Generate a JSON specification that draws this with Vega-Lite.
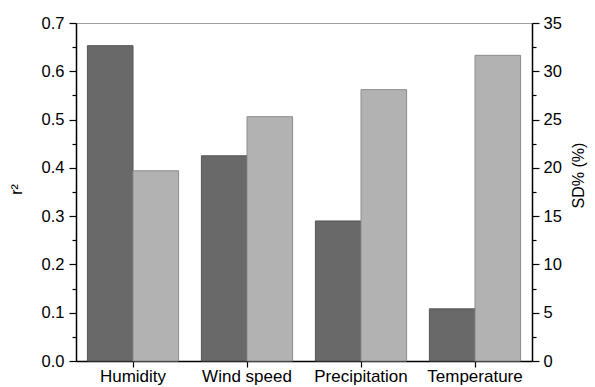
{
  "$schema": "https://vega.github.io/schema/vega-lite/v6.json",
  "width": 456,
  "height": 338,
  "autosize": "none",
  "padding": {"left": 76, "top": 23, "right": 63, "bottom": 26},
  "background": "white",
  "config": {
    "font": "Liberation Sans",
    "view": {"stroke": "#a0a0a0", "strokeWidth": 1},
    "axis": {"labelFont": "Liberation Sans", "titleFont": "Liberation Sans", "labelFontSize": 16.5, "titleFontSize": 16, "labelColor": "#000", "titleColor": "#000", "domainColor": "#000", "tickColor": "#000", "titleFontWeight": "normal", "grid": false, "domainWidth": 1.5, "tickWidth": 1.2}
  },
  "data": {"values": [
    {"category": "Humidity", "series": "r2", "value": 0.653},
    {"category": "Wind speed", "series": "r2", "value": 0.425},
    {"category": "Precipitation", "series": "r2", "value": 0.290},
    {"category": "Temperature", "series": "r2", "value": 0.108},
    {"category": "Humidity", "series": "SD", "value": 19.7},
    {"category": "Wind speed", "series": "SD", "value": 25.3},
    {"category": "Precipitation", "series": "SD", "value": 28.1},
    {"category": "Temperature", "series": "SD", "value": 31.65}
  ]},
  "encoding": {
    "x": {"field": "category", "type": "nominal", "sort": ["Humidity", "Wind speed", "Precipitation", "Temperature"],
      "scale": {"paddingInner": 0.2, "paddingOuter": 0.1},
      "axis": {"title": null, "labelAngle": 0, "tickSize": 6, "labelPadding": 1, "domain": true, "labelFontSize": 17}},
    "xOffset": {"field": "series", "type": "nominal", "sort": ["r2", "SD"], "scale": {"domain": ["r2", "SD"], "paddingInner": 0, "paddingOuter": 0}}
  },
  "layer": [
    {
      "transform": [{"filter": "datum.series === 'r2'"}],
      "mark": {"type": "bar", "fill": "#696969", "stroke": "#555555", "strokeWidth": 1},
      "encoding": {
        "y": {"field": "value", "type": "quantitative",
          "scale": {"domain": [0, 0.7], "nice": false},
          "axis": {"orient": "left", "title": "r²", "titleAngle": -90, "titleX": -60, "titleY": 166, "titleAlign": "center", "titleBaseline": "middle",
            "values": [0, 0.05, 0.1, 0.15, 0.2, 0.25, 0.3, 0.35, 0.4, 0.45, 0.5, 0.55, 0.6, 0.65, 0.7],
            "labelExpr": "abs(round(datum.value*10) - datum.value*10) < 0.001 ? format(datum.value, '.1f') : ''",
            "tickSize": {"condition": {"test": "abs(round(datum.value*10) - datum.value*10) < 0.001", "value": 7}, "value": 4},
            "labelPadding": 5}}
      }
    },
    {
      "transform": [{"filter": "datum.series === 'SD'"}],
      "mark": {"type": "bar", "fill": "#b2b2b2", "stroke": "#8c8c8c", "strokeWidth": 1},
      "encoding": {
        "y": {"field": "value", "type": "quantitative",
          "scale": {"domain": [0, 35], "nice": false},
          "axis": {"orient": "right", "title": "SD% (%)", "titleAngle": -90, "titleX": 46, "titleY": 152, "titleAlign": "center", "titleBaseline": "middle",
            "values": [0, 2.5, 5, 7.5, 10, 12.5, 15, 17.5, 20, 22.5, 25, 27.5, 30, 32.5, 35],
            "labelExpr": "datum.value % 5 === 0 ? format(datum.value, 'd') : ''",
            "tickSize": {"condition": {"test": "datum.value % 5 === 0", "value": 7}, "value": 4},
            "labelPadding": 4}}
      }
    }
  ],
  "resolve": {"scale": {"y": "independent"}}
}
